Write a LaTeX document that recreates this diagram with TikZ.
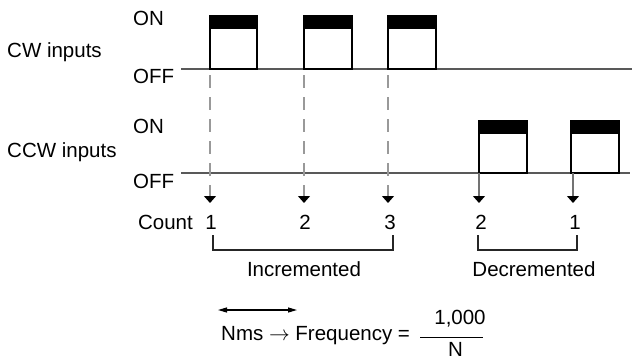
\documentclass[tikz,border=0pt]{standalone}
\usepackage{fontspec}
\setmainfont{Liberation Sans}
\usetikzlibrary{arrows.meta, positioning}
\tikzset{
  lbl/.style={font=\fontsize{20.5}{24}\selectfont, inner sep=0pt},
  level/.style={draw=black!65, line width=1.3pt},
  pulse/.style={draw=black, line width=1.6pt, fill=white},
  topbar/.style={fill=black},
  drop/.style={draw=black!40, line width=1.2pt, dash pattern=on 13pt off 9pt, dash phase=-6pt},
  feed/.style={draw=black!55, line width=1.2pt},
  tick/.style={-{Triangle[width=12pt, length=7pt, color=black]}},
  bracket/.style={draw=black!85, line width=1.2pt},
  span/.style={{Triangle[width=5pt, length=9pt]}-{Triangle[width=5pt, length=9pt]}, line width=1.2pt}
}

\begin{document}
\begin{tikzpicture}[x=1pt, y=-1pt]
    \useasboundingbox (0,0) rectangle (638,362);
    % signal names and levels
    \node[lbl, anchor=base west] (cw) at (7,57) {CW inputs};
    \node[lbl, anchor=base west] (cwon) at (133,25) {ON};
    \node[lbl, anchor=base west] (cwoff) at (133,83) {OFF};
    \node[lbl, anchor=base west] (ccw) at (7,157) {CCW inputs};
    \node[lbl, anchor=base west] (ccwon) at (133,133) {ON};
    \node[lbl, anchor=base west] (ccwoff) at (133,188) {OFF};
    % base lines
    \coordinate (cwa) at (181,69);
    \coordinate (cwb) at (632,69);
    \coordinate (ccwa) at (181,173);
    \coordinate (ccwb) at (630,173);
    \draw[level] (cwa) -- (cwb);
    \draw[level] (ccwa) -- (ccwb);
    % CW pulses
    \draw[pulse] (210,69) rectangle (257,16);
    \fill[topbar] (210,16) rectangle (257,29);
    \draw[pulse] (304,69) rectangle (352,16);
    \fill[topbar] (304,16) rectangle (352,29);
    \draw[pulse] (388,69) rectangle (436,16);
    \fill[topbar] (388,16) rectangle (436,29);
    % CCW pulses
    \draw[pulse] (479,173) rectangle (527,121);
    \fill[topbar] (479,121) rectangle (527,134);
    \draw[pulse] (571,173) rectangle (619,121);
    \fill[topbar] (571,121) rectangle (619,134);
    % rising edges
    \coordinate (e1) at (210,69);
    \coordinate (e2) at (304,69);
    \coordinate (e3) at (388,69);
    \coordinate (e4) at (479,173);
    \coordinate (e5) at (573,173);
    \coordinate (t1) at (210,203);
    \coordinate (t2) at (304,203);
    \coordinate (t3) at (388,203);
    \coordinate (t4) at (479,203);
    \coordinate (t5) at (573,203);
    \draw[drop, tick] (e1) -- (t1);
    \draw[drop, tick] (e2) -- (t2);
    \draw[drop, tick] (e3) -- (t3);
    \draw[feed, tick] (e4) -- (t4);
    \draw[feed, tick] (e5) -- (t5);
    % count values
    \node[lbl, anchor=base] (n1) at (211,229) {1};
    \node[lbl, anchor=base] (n2) at (305,229) {2};
    \node[lbl, anchor=base] (n3) at (390,229) {3};
    \node[lbl, anchor=base] (n4) at (481,229) {2};
    \node[lbl, anchor=base] (n5) at (575,229) {1};
    \node[lbl, anchor=base east] (cnt) at (193,229) {Count};
    \draw[bracket] (213,235) |- (393,250) -- (393,235);
    \draw[bracket] (478,235) |- (577,250) -- (577,235);
    \node[lbl, anchor=base] (inc) at (304,276) {Incremented};
    \node[lbl, anchor=base] (dec) at (534,276) {Decremented};
    % period and frequency
    \coordinate (wl) at (218,310);
    \coordinate (wr) at (297,310);
    \draw[span] (wl) -- (wr);
    \node[lbl, anchor=base west] (freq) at (221,340) {Nms $\rightarrow$ Frequency =};
    \node[lbl, anchor=base] (num) at (460,324.5) {1,000};
    \node[lbl, anchor=base] (den) at (455.5,356.5) {N};
    \draw[line width=1.2pt] (420,337.5) -- (483,337.5);
\end{tikzpicture}
\end{document}
